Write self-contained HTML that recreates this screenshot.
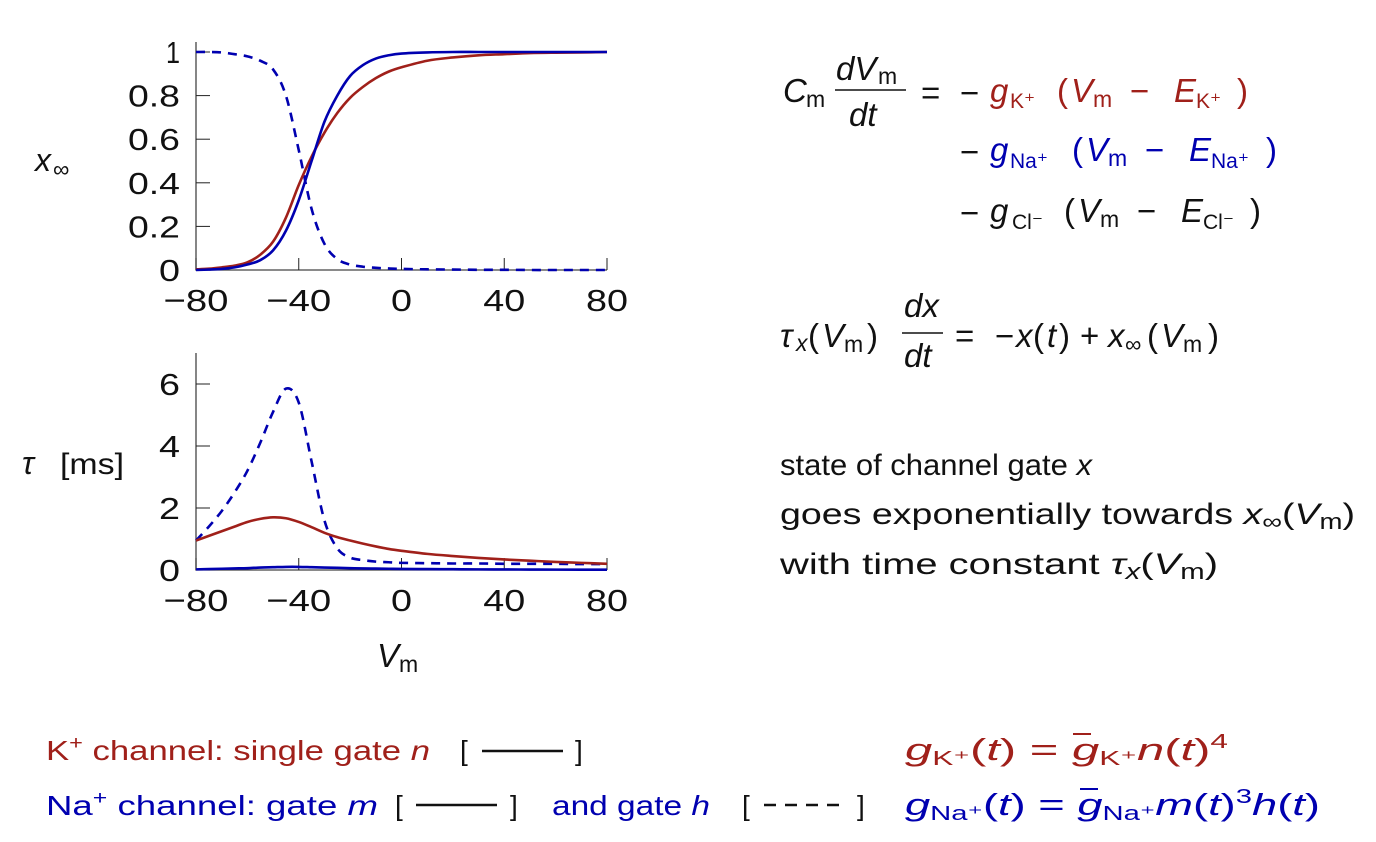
<!DOCTYPE html>
<html><head><meta charset="utf-8"><style>
html,body{margin:0;padding:0;background:#fff}
svg{display:block}
text{font-family:"Liberation Sans","DejaVu Sans",sans-serif;fill:#111}
.r{fill:#a0201a}.b{fill:#0000b0}.i{font-style:italic}
</style></head><body>
<svg id="fig" width="1376" height="842" viewBox="0 0 1376 842" xmlns="http://www.w3.org/2000/svg">
<g id="top"></g>
<g id="bot"></g>

<g font-size="33">
<text x="783" y="102" class="i">C</text><text x="806" y="107" font-size="23">m</text>
<text x="836" y="80" class="i">dV</text><text x="878" y="84" font-size="23">m</text>
<line x1="835" y1="90" x2="906" y2="90" stroke="#111" stroke-width="1.5"/>
<text x="849" y="126" class="i">dt</text>
<text x="921" y="104">=</text><text x="960" y="104">−</text>
<text x="990" y="102" class="i r">g</text><text x="1010" y="108" font-size="21" class="r">K⁺</text>
<text x="1057" y="102" class="r">(</text><text x="1071" y="102" class="i r">V</text><text x="1093" y="107" font-size="23" class="r">m</text>
<text x="1130" y="102" class="r">−</text><text x="1174" y="102" class="i r">E</text><text x="1196" y="108" font-size="21" class="r">K⁺</text><text x="1237" y="102" class="r">)</text>
<text x="960" y="163">−</text>
<text x="990" y="161" class="i b">g</text><text x="1010" y="168" font-size="21" class="b">Na⁺</text>
<text x="1072" y="161" class="b">(</text><text x="1086" y="161" class="i b">V</text><text x="1108" y="166" font-size="23" class="b">m</text>
<text x="1145" y="161" class="b">−</text><text x="1189" y="161" class="i b">E</text><text x="1211" y="168" font-size="21" class="b">Na⁺</text><text x="1266" y="161" class="b">)</text>
<text x="960" y="224">−</text>
<text x="990" y="222" class="i">g</text><text x="1012" y="229" font-size="21">Cl⁻</text>
<text x="1064" y="222">(</text><text x="1078" y="222" class="i">V</text><text x="1100" y="227" font-size="23">m</text>
<text x="1137" y="222">−</text><text x="1181" y="222" class="i">E</text><text x="1203" y="229" font-size="21">Cl⁻</text><text x="1250" y="222">)</text>
</g>

<g font-size="33">
<text x="780" y="347" class="i">τ</text><text x="796" y="351" font-size="23" class="i">x</text>
<text x="808" y="347">(</text><text x="822" y="347" class="i">V</text><text x="844" y="352" font-size="23">m</text><text x="867" y="347">)</text>
<text x="904" y="317" class="i">dx</text>
<line x1="902" y1="333" x2="943" y2="333" stroke="#111" stroke-width="1.5"/>
<text x="904" y="367" class="i">dt</text>
<text x="955" y="347">=</text><text x="995" y="347">−</text><text x="1016" y="347" class="i">x</text><text x="1033" y="347">(</text><text x="1047" y="347" class="i">t</text><text x="1059" y="347">)</text>
<text x="1080" y="347">+</text><text x="1108" y="347" class="i">x</text><text x="1125" y="352" font-size="23">∞</text>
<text x="1147" y="347">(</text><text x="1161" y="347" class="i">V</text><text x="1183" y="352" font-size="23">m</text><text x="1208" y="347">)</text>
</g>

<g font-size="30">
<text x="780" y="475" textLength="312" lengthAdjust="spacingAndGlyphs">state of channel gate <tspan class="i">x</tspan></text>
<text x="780" y="524" textLength="575" lengthAdjust="spacingAndGlyphs">goes exponentially towards <tspan class="i">x</tspan><tspan font-size="22" dy="5">∞</tspan><tspan dy="-5">(</tspan><tspan class="i">V</tspan><tspan font-size="22" dy="5">m</tspan><tspan dy="-5">)</tspan></text>
<text x="780" y="574" textLength="438" lengthAdjust="spacingAndGlyphs">with time constant <tspan class="i">τ</tspan><tspan font-size="22" dy="5" class="i">x</tspan><tspan dy="-5">(</tspan><tspan class="i">V</tspan><tspan font-size="22" dy="5">m</tspan><tspan dy="-5">)</tspan></text>
</g>

<g font-size="28">
<text x="46" y="760" class="r" textLength="384" lengthAdjust="spacingAndGlyphs">K<tspan font-size="19" dy="-11">+</tspan><tspan dy="11"> channel: single gate </tspan><tspan class="i">n</tspan></text>
<text x="460" y="760">[</text><line x1="482" y1="751" x2="563" y2="751" stroke="#111" stroke-width="2.5"/><text x="575" y="760">]</text>
<text x="46" y="815" class="b" textLength="332" lengthAdjust="spacingAndGlyphs">Na<tspan font-size="19" dy="-11">+</tspan><tspan dy="11"> channel: gate </tspan><tspan class="i">m</tspan></text>
<text x="395" y="815">[</text><line x1="416" y1="805" x2="497" y2="805" stroke="#111" stroke-width="2.5"/><text x="510" y="815">]</text>
<text x="552" y="815" class="b" textLength="158" lengthAdjust="spacingAndGlyphs">and gate <tspan class="i">h</tspan></text>
<text x="742" y="815">[</text><line x1="764" y1="805" x2="845" y2="805" stroke="#111" stroke-width="2.5" stroke-dasharray="12,9"/><text x="857" y="815">]</text>
<text x="905" y="760" class="r" font-size="31" textLength="323" lengthAdjust="spacingAndGlyphs"><tspan class="i">g</tspan><tspan font-size="20" dy="5">K⁺</tspan><tspan dy="-5">(</tspan><tspan class="i">t</tspan>) = <tspan class="i">g</tspan><tspan font-size="20" dy="5">K⁺</tspan><tspan class="i" dy="-5">n</tspan>(<tspan class="i">t</tspan>)<tspan font-size="20" dy="-12">4</tspan></text>
<line x1="1073" y1="734" x2="1091" y2="734" stroke="#a0201a" stroke-width="2"/>
<text x="905" y="815" class="b" font-size="31" textLength="415" lengthAdjust="spacingAndGlyphs"><tspan class="i">g</tspan><tspan font-size="20" dy="5">Na⁺</tspan><tspan dy="-5">(</tspan><tspan class="i">t</tspan>) = <tspan class="i">g</tspan><tspan font-size="20" dy="5">Na⁺</tspan><tspan class="i" dy="-5">m</tspan>(<tspan class="i">t</tspan>)<tspan font-size="20" dy="-12">3</tspan><tspan class="i" dy="12">h</tspan>(<tspan class="i">t</tspan>)</text>
<line x1="1080" y1="789" x2="1098" y2="789" stroke="#0000b0" stroke-width="2"/>
</g>
</svg>
<script>
const vm = [-80,-75,-70,-65,-60,-55,-50,-45,-40,-35,-30,-25,-20,-15,-10,-5,0,10,20,30,40,50,60,70,80];
const nInf = [0.003,0.006,0.012,0.02,0.035,0.07,0.13,0.24,0.39,0.52,0.63,0.72,0.79,0.84,0.88,0.91,0.93,0.96,0.975,0.985,0.99,0.995,0.997,0.998,1];
const mInf = [0,0.002,0.005,0.012,0.025,0.045,0.09,0.18,0.32,0.5,0.68,0.8,0.89,0.94,0.97,0.985,0.993,0.998,1,1,1,1,1,1,1];
const hInf = [1,1,0.998,0.99,0.98,0.96,0.92,0.8,0.55,0.28,0.12,0.05,0.025,0.015,0.01,0.007,0.005,0.003,0.002,0.001,0.001,0,0,0,0];
const tauN = [0.95,1.1,1.25,1.4,1.55,1.65,1.7,1.67,1.55,1.38,1.2,1.06,0.95,0.85,0.76,0.68,0.62,0.52,0.45,0.39,0.34,0.3,0.26,0.23,0.2];
const tauM = [0.02,0.03,0.04,0.05,0.06,0.08,0.09,0.1,0.1,0.09,0.08,0.07,0.06,0.05,0.045,0.04,0.035,0.03,0.025,0.02,0.018,0.015,0.012,0.01,0.01];
const tauH = [0.95,1.4,1.9,2.5,3.2,4.1,5.1,5.85,5.4,3.5,1.6,0.7,0.4,0.32,0.27,0.25,0.23,0.22,0.21,0.21,0.2,0.2,0.2,0.19,0.19];
const xTicks = [-80,-40,0,40,80];
const xTickLabels = ["−80","−40","0","40","80"];
const yTicksTop = [0,0.2,0.4,0.6,0.8,1];
const yTickLabelsTop = ["0","0.2","0.4","0.6","0.8","1"];
const yTicksBot = [0,2,4,6];
const yTickLabelsBot = ["0","2","4","6"];
const RED="#a0201a", BLUE="#0000b0", NS="http://www.w3.org/2000/svg";

function mk(tag, attrs, parent){const e=document.createElementNS(NS,tag);for(const k in attrs)e.setAttribute(k,attrs[k]);parent.appendChild(e);return e;}
function labW(s){let w=0;for(const c of s){w+= c==='1'?14 : c==='.'?10 : c==='−'?23 : 21;}return w;}

function chart(g, y0px, y1px, ymin, ymax, yTop, yt, ytl, series, yLabel, xLabel){
  const X0=196, X1=607;
  const sx=v=>X0+(v+80)/160*(X1-X0);
  const sy=v=>y0px-(v-ymin)/(ymax-ymin)*(y0px-y1px);
  const ax=mk('path',{d:`M${X0},${yTop} V${y0px} H${X1}`,stroke:'#444','stroke-width':1.3,fill:'none'},g);
  
  
  xTicks.forEach((t,i)=>{
    const tk=mk('line',{x1:sx(t),x2:sx(t),y1:y0px,y2:y0px-12,stroke:'#222','stroke-width':1},g);
    
    
    const w=labW(xTickLabels[i]);
    const tl=mk('text',{x:sx(t)-w/2,y:y0px+41,'font-size':31,textLength:w,lengthAdjust:'spacingAndGlyphs'},g);
    tl.textContent=xTickLabels[i];
    
    
  });
  yt.forEach((t,i)=>{
    const tk=mk('line',{x1:X0,x2:X0+14,y1:sy(t),y2:sy(t),stroke:'#222','stroke-width':1},g);
    
    
    const w=labW(ytl[i]);
    const tl=mk('text',{x:X0-16-w,y:sy(t)+11,'font-size':31,textLength:w,lengthAdjust:'spacingAndGlyphs'},g);
    tl.textContent=ytl[i];
    
    
  });
  series.forEach(s=>{
    const pts=vm.map((v,i)=>[sx(v),sy(s.vals[i])]);
    let d=`M${pts[0][0]},${pts[0][1]}`;
    for(let i=0;i<pts.length-1;i++){
      const p0=pts[Math.max(0,i-1)],p1=pts[i],p2=pts[i+1],p3=pts[Math.min(pts.length-1,i+2)];
      const c1=[p1[0]+(p2[0]-p0[0])/6,p1[1]+(p2[1]-p0[1])/6],c2=[p2[0]-(p3[0]-p1[0])/6,p2[1]-(p3[1]-p1[1])/6];
      d+=` C${c1[0]},${c1[1]} ${c2[0]},${c2[1]} ${p2[0]},${p2[1]}`;
    }
    const p=mk('path',{d,stroke:s.color,'stroke-width':2.6,fill:'none'},g);
    if(s.dash)p.setAttribute('stroke-dasharray','9,7');
    
    
  });
  const yl=mk('g',{},g);
  
  
  yl.innerHTML=yLabel;
  if(xLabel){const xl=mk('g',{},g);
    
    
    xl.innerHTML=xLabel;}
}
chart(document.getElementById('top'),270,52,0,1,42,yTicksTop,yTickLabelsTop,[
  {vals:hInf,color:BLUE,dash:true,name:'h-inf-line'},
  {vals:nInf,color:RED,name:'n-inf-line'},
  {vals:mInf,color:BLUE,name:'m-inf-line'}],
  '<text x="35" y="171" font-size="32" font-style="italic">x</text><text x="53" y="177" font-size="23">∞</text>');
chart(document.getElementById('bot'),570,384,0,6,353,yTicksBot,yTickLabelsBot,[
  {vals:tauH,color:BLUE,dash:true,name:'tau-h-line'},
  {vals:tauN,color:RED,name:'tau-n-line'},
  {vals:tauM,color:BLUE,name:'tau-m-line'}],
  '<text x="22" y="474" font-size="32" font-style="italic">τ</text><text x="60" y="474" font-size="30" textLength="64" lengthAdjust="spacingAndGlyphs">[ms]</text>',
  '<text x="377" y="667" font-size="33" font-style="italic">V</text><text x="399" y="672" font-size="23">m</text>');
</script>
</body></html>
